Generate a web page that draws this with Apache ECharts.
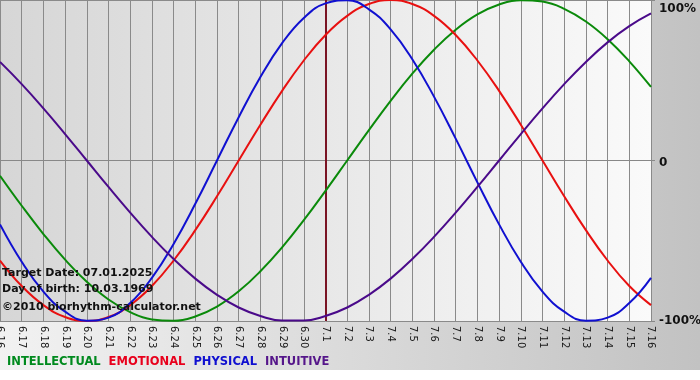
<!DOCTYPE html>
<html><head><meta charset="utf-8">
<script src="https://cdn.jsdelivr.net/npm/echarts@6/dist/echarts.min.js"></script>
<style>html,body{margin:0;padding:0;background:#fff}#c{width:700px;height:380px}</style>
</head><body><div id="c"></div>
<script>
var days = ['6.16','6.17','6.18','6.19','6.20','6.21','6.22','6.23','6.24','6.25','6.26','6.27','6.28','6.29','6.30','7.1','7.2','7.3','7.4','7.5','7.6','7.7','7.8','7.9','7.10','7.11','7.12','7.13','7.14','7.15','7.16'];
var intellectual = [-9.5,-28.2,-45.8,-61.8,-75.6,-86.6,-94.5,-99.0,-99.9,-97.2,-91.0,-81.5,-69.0,-54.1,-37.2,-18.9,0,18.9,37.2,54.1,69.0,81.5,91.0,97.2,99.9,99.0,94.5,86.6,75.6,61.8,45.8];
var emotional = [-62.3,-78.2,-90.1,-97.5,-100,-97.5,-90.1,-78.2,-62.3,-43.4,-22.3,0,22.3,43.4,62.3,78.2,90.1,97.5,100,97.5,90.1,78.2,62.3,43.4,22.3,0,-22.3,-43.4,-62.3,-78.2,-90.1];
var physical = [-39.8,-63.1,-81.7,-94.2,-99.8,-97.9,-88.8,-73.1,-52.0,-27.0,0,27.0,52.0,73.1,88.8,97.9,99.8,94.2,81.7,63.1,39.8,13.6,-13.6,-39.8,-63.1,-81.7,-94.2,-99.8,-97.9,-88.8,-73.1];
var intuitive = [61.4,47.6,32.5,16.5,0,-16.5,-32.5,-47.6,-61.4,-73.6,-83.7,-91.6,-96.9,-99.7,-99.7,-96.9,-91.6,-83.7,-73.6,-61.4,-47.6,-32.5,-16.5,0,16.5,32.5,47.6,61.4,73.6,83.7,91.6];
var targetDay = '7.1';
var yTicks = {'100':'100%','0':'0','-100':'-100%'};
var infoLines = ['Target Date: 07.01.2025','Day of birth: 10.03.1969','\u00a92010 biorhythm-calculator.net'];

var chart = echarts.init(document.getElementById('c'));
var font = 'DejaVu Sans';
function ser(name, data, color, extra){
  var s = {name:name, type:'line', data:data, smooth:0.45, symbol:'none',
    lineStyle:{color:color, width:2}, itemStyle:{color:color}, z:3, animation:false};
  if(extra) for (var k in extra) s[k]=extra[k];
  return s;
}
chart.setOption({
  animation:false,
  graphic:[
    {type:'rect', shape:{x:0,y:0,width:700,height:370}, z:-10, silent:true,
     style:{fill:new echarts.graphic.LinearGradient(0,0,1,0,[{offset:0,color:'#f2f2f2'},{offset:1,color:'#c2c2c2'}])}},
    {type:'text', left:2, top:268, z:10, style:{text:infoLines[0], font:'bold 11px "DejaVu Sans"', fill:'#111'}},
    {type:'text', left:2, top:284, z:10, style:{text:infoLines[1], font:'bold 11px "DejaVu Sans"', fill:'#111'}},
    {type:'text', left:2, top:302, z:10, style:{text:infoLines[2], font:'bold 11px "DejaVu Sans"', fill:'#111'}}
  ],
  legend:{left:2, top:355, padding:0, icon:'none', itemWidth:0, itemGap:3, selectedMode:false,
    textStyle:{fontFamily:font, fontWeight:'bold', fontSize:11.5},
    data:[
      {name:'INTELLECTUAL', textStyle:{color:'#008a1e'}},
      {name:'EMOTIONAL', textStyle:{color:'#e8001c'}},
      {name:'PHYSICAL', textStyle:{color:'#1010d0'}},
      {name:'INTUITIVE', textStyle:{color:'#55168a'}}
    ]},
  grid:{left:0, top:0, width:651, height:321, show:true, borderWidth:0, containLabel:false, outerBoundsMode:'none',
    backgroundColor:new echarts.graphic.LinearGradient(0,0,1,0,[{offset:0,color:'#d6d6d6'},{offset:1,color:'#fafafa'}])},
  xAxis:{type:'category', data:days, boundaryGap:false,
    axisLine:{show:true, lineStyle:{color:'#888', width:1}},
    axisTick:{show:true, length:3, lineStyle:{color:'#888'}},
    splitLine:{show:true, lineStyle:{color:'#8a8a8a', width:1}},
    axisLabel:{rotate:-90, fontFamily:font, fontSize:10, color:'#1a1a1a', margin:5, interval:0, hideOverlap:false}},
  yAxis:{type:'value', min:-100, max:100, interval:100, position:'right',
    axisLine:{show:false}, axisTick:{show:true, length:4, lineStyle:{color:'#888'}},
    splitLine:{show:true, lineStyle:{color:'#8a8a8a', width:1}},
    axisLabel:{margin:8, fontFamily:font, fontWeight:'bold', fontSize:12, color:'#111', hideOverlap:false,
      formatter:function(v){ var t=yTicks[String(v)]; if(v===100) return '{t|'+t+'}'; if(v===0) return '{z|'+t+'}'; return t; },
      rich:{t:{padding:[17,0,0,0], fontFamily:font, fontWeight:'bold', fontSize:12, color:'#111'},
            z:{padding:[4,0,0,0], fontFamily:font, fontWeight:'bold', fontSize:12, color:'#111'}}}},
  series:[
    ser('INTELLECTUAL', intellectual, '#0a8a0a'),
    ser('EMOTIONAL', emotional, '#e81010'),
    ser('PHYSICAL', physical, '#1010d0'),
    ser('INTUITIVE', intuitive, '#4a0a8a', {markLine:{symbol:'none', silent:true, label:{show:false},
      lineStyle:{color:'#7a1424', width:2, type:'solid'}, data:[{xAxis:targetDay}], z:2}})
  ]
});
</script></body></html>
